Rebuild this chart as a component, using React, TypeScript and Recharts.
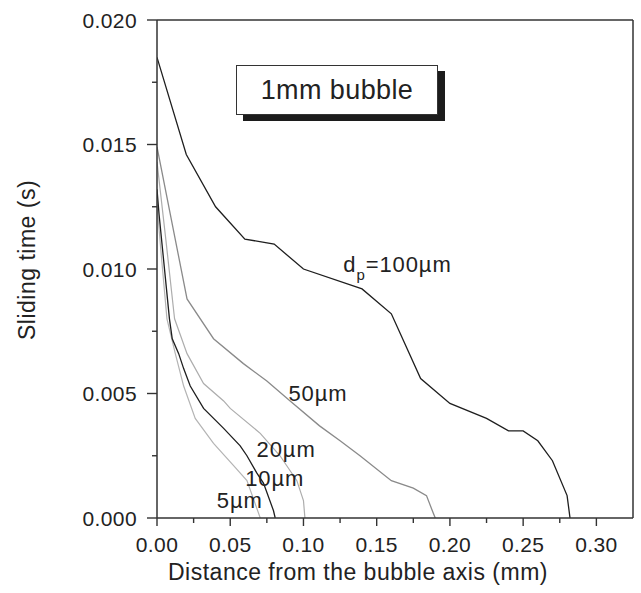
import React from 'react';
import { LineChart, Line, XAxis, YAxis, ReferenceDot, ReferenceLine, Label } from 'recharts';

const FONT = '"Liberation Sans", Arial, Helvetica, sans-serif';
const INK = '#222';

// axis ticks
const xTicks = [0, 0.025, 0.05, 0.075, 0.1, 0.125, 0.15, 0.175, 0.2, 0.225, 0.25, 0.275, 0.3];
const xMajor = [0, 0.05, 0.1, 0.15, 0.2, 0.25, 0.3];
const yTicks = [0, 0.0025, 0.005, 0.0075, 0.01, 0.0125, 0.015, 0.0175, 0.02];
const yMajor = [0, 0.005, 0.01, 0.015, 0.02];

// dp = 100 um
const d100X = [0, 0.02, 0.04, 0.06, 0.08, 0.1, 0.14, 0.16, 0.18, 0.2, 0.225, 0.24, 0.25, 0.26, 0.27, 0.28, 0.282];
const d100Y = [0.0185, 0.0146, 0.0125, 0.0112, 0.011, 0.01, 0.0092, 0.0082, 0.0056, 0.0046, 0.004, 0.0035, 0.0035, 0.0031, 0.0023, 0.0009, 0.0];
// 50 um
const d50X = [0, 0.0205, 0.0386, 0.059, 0.075, 0.0909, 0.111, 0.125, 0.1386, 0.16, 0.175, 0.184, 0.1886, 0.19];
const d50Y = [0.0149, 0.0088, 0.0072, 0.0062, 0.0055, 0.0047, 0.0037, 0.0031, 0.0025, 0.0015, 0.0012, 0.0009, 0.0002, 0.0];
// 20 um
const d20X = [0, 0.006, 0.012, 0.0205, 0.0318, 0.0455, 0.05, 0.0705, 0.084, 0.0955, 0.1, 0.101];
const d20Y = [0.0143, 0.0112, 0.008, 0.0066, 0.0054, 0.0047, 0.0044, 0.0034, 0.0025, 0.0015, 0.0007, 0.0];
// 10 um
const d10X = [0, 0.0014, 0.0085, 0.0104, 0.0148, 0.0182, 0.0227, 0.0318, 0.0455, 0.0568, 0.0614, 0.0682, 0.0727, 0.0795, 0.0807];
const d10Y = [0.0132, 0.0122, 0.008, 0.0072, 0.0066, 0.006, 0.0053, 0.0044, 0.0036, 0.0029, 0.0025, 0.0018, 0.0014, 0.0003, 0.0];
// 5 um
const d5X = [0, 0.003, 0.0068, 0.0125, 0.0182, 0.0261, 0.0386, 0.0523, 0.0614, 0.0705];
const d5Y = [0.0126, 0.0105, 0.008, 0.0066, 0.0053, 0.004, 0.003, 0.0021, 0.0015, 0.0];

const toPoints = (xs: number[], ys: number[]) => xs.map((x, i) => ({ x, y: ys[i] }));

const series = [
  { key: 'd5', data: toPoints(d5X, d5Y), color: '#b4b4b4', width: 1.2 },
  { key: 'd20', data: toPoints(d20X, d20Y), color: '#adadad', width: 1.2 },
  { key: 'd50', data: toPoints(d50X, d50Y), color: '#8a8a8a', width: 1.3 },
  { key: 'd10', data: toPoints(d10X, d10Y), color: '#1e1e1e', width: 1.3 },
  { key: 'd100', data: toPoints(d100X, d100Y), color: '#1e1e1e', width: 1.3 },
];

// curve labels (x, y = text start / baseline in data units)
const curveLabels = [
  { x: 0.1272, y: 0.00987, main: 'd', sub: 'p', rest: '=100\u00b5m' },
  { x: 0.0897, y: 0.00471, main: '50\u00b5m', sub: '', rest: '' },
  { x: 0.068, y: 0.00246, main: '20\u00b5m', sub: '', rest: '' },
  { x: 0.0602, y: 0.00128, main: '10\u00b5m', sub: '', rest: '' },
  { x: 0.0408, y: 0.0004, main: '5\u00b5m', sub: '', rest: '' },
];

const XTick = (props: any) => {
  const { x, y, payload } = props;
  const v = payload.value;
  const major = xMajor.some((m) => Math.abs(m - v) < 1e-9);
  return (
    <g>
      <line x1={x} y1={y} x2={x} y2={y + (major ? 8 : 5)} stroke="#333" strokeWidth={1.4} />
      {major && (
        <text x={x} y={y + 34} textAnchor="middle" fontSize={21} fill={INK} fontFamily={FONT} letterSpacing={0.4}>
          {v.toFixed(2)}
        </text>
      )}
    </g>
  );
};

const YTick = (props: any) => {
  const { x, y, payload } = props;
  const v = payload.value;
  const major = yMajor.some((m) => Math.abs(m - v) < 1e-12);
  return (
    <g>
      <line x1={x} y1={y} x2={x - (major ? 10 : 5)} y2={y} stroke="#333" strokeWidth={1.4} />
      {major && (
        <text x={x - 20} y={y + 7.5} textAnchor="end" fontSize={21} fill={INK} fontFamily={FONT} letterSpacing={0.4}>
          {v.toFixed(3)}
        </text>
      )}
    </g>
  );
};

const makeCurveLabel = (l: typeof curveLabels[number]) => (p: any) => {
  const vb = p.viewBox || {};
  const x = (vb.x ?? 0) + (vb.width ?? 0) / 2;
  const y = (vb.y ?? 0) + (vb.height ?? 0) / 2;
  return (
    <text x={x} y={y} fontSize={22} fill={INK} fontFamily={FONT} letterSpacing={0.9}>
      <tspan>{l.main}</tspan>
      {l.sub && (
        <tspan dy={8} fontSize={15}>
          {l.sub}
        </tspan>
      )}
      {l.rest && <tspan dy={l.sub ? -8 : 0}>{l.rest}</tspan>}
    </text>
  );
};

export default function App() {
  return (
    <div style={{ position: 'relative', width: 641, height: 593, background: '#fff' }}>
      <style>{'body{margin:0;background:#fff}'}</style>
      <LineChart width={641} height={593} margin={{ top: 20, right: 8, bottom: 0, left: 0 }}>
        <XAxis
          type="number"
          dataKey="x"
          domain={[0, 0.325]}
          ticks={xTicks}
          interval={0}
          height={75}
          tickSize={0}
          tickMargin={0}
          tickLine={false}
          tick={XTick}
          axisLine={{ stroke: '#333', strokeWidth: 1.5 }}
          allowDataOverflow
        >
          <Label
            content={() => (
              <text x={358} y={580} textAnchor="middle" fontSize={23} fill={INK} fontFamily={FONT} letterSpacing={0.5}>
                Distance from the bubble axis (mm)
              </text>
            )}
          />
        </XAxis>
        <YAxis
          type="number"
          dataKey="y"
          domain={[0, 0.02]}
          ticks={yTicks}
          interval={0}
          width={157}
          tickSize={0}
          tickMargin={0}
          tickLine={false}
          tick={YTick}
          axisLine={{ stroke: '#333', strokeWidth: 1.5 }}
          allowDataOverflow
        >
          <Label
            content={() => (
              <text
                x={27}
                y={260}
                dy={8}
                transform="rotate(-90 27 260)"
                textAnchor="middle"
                fontSize={23}
                fill={INK}
                fontFamily={FONT}
                letterSpacing={0.5}
              >
                Sliding time (s)
              </text>
            )}
          />
        </YAxis>
        <ReferenceLine y={0.02} stroke="#333" strokeWidth={1.5} />
        <ReferenceLine x={0.325} stroke="#333" strokeWidth={1.5} />
        {series.map((s) => (
          <Line
            key={s.key}
            data={s.data}
            dataKey="y"
            type="linear"
            stroke={s.color}
            strokeWidth={s.width}
            dot={false}
            activeDot={false}
            isAnimationActive={false}
          />
        ))}
        {curveLabels.map((l, i) => (
          <ReferenceDot key={i} x={l.x} y={l.y} r={0} fill="none" stroke="none" label={makeCurveLabel(l)} />
        ))}
      </LineChart>
      <div
        style={{
          position: 'absolute',
          left: 236,
          top: 65,
          width: 202,
          height: 50,
          boxSizing: 'border-box',
          border: '1.3px solid #333',
          boxShadow: '7px 6px 0 0 #1c1c1c',
          background: '#fff',
          display: 'flex',
          alignItems: 'center',
          justifyContent: 'center',
          fontFamily: FONT,
          fontSize: 27,
          color: INK,
          letterSpacing: 0.4,
        }}
      >
        1mm bubble
      </div>
    </div>
  );
}
